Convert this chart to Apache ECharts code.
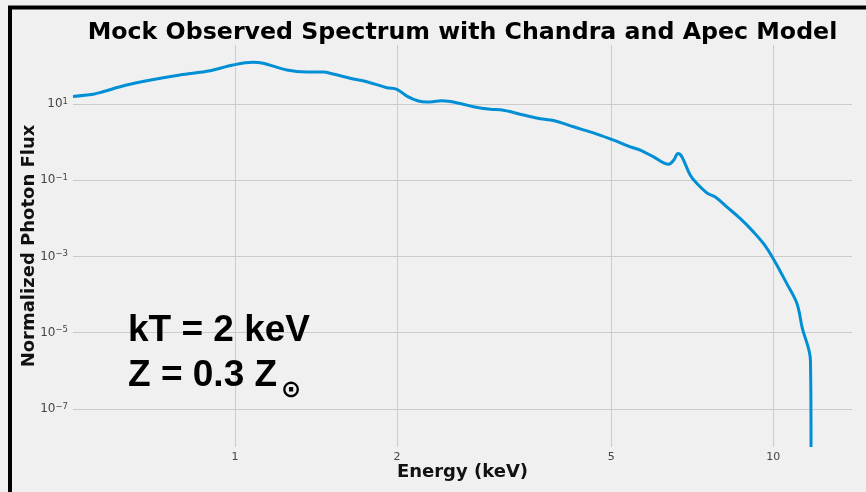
<!DOCTYPE html>
<html><head><meta charset="utf-8">
<script src="https://cdn.jsdelivr.net/npm/echarts@6/dist/echarts.min.js"></script>
<style>html,body{margin:0;padding:0;background:#f0f0f0}#c{width:866px;height:492px}</style>
</head><body><div id="c"></div>
<script>
const energy = [0.50, 0.545, 0.568, 0.629, 0.685, 0.790, 0.899, 0.991, 1.080, 1.127, 1.248, 1.359, 1.458, 1.521, 1.636, 1.757, 1.914, 1.998, 2.085, 2.191, 2.271, 2.423, 2.620, 2.773, 2.979, 3.110, 3.435, 3.689, 3.905, 4.254, 4.702, 5.050, 5.424, 5.661, 5.992, 6.390, 6.528, 6.652, 6.766, 7.011, 7.215, 7.531, 7.802, 8.203, 8.685, 9.192, 9.594, 10.01, 10.60, 11.07, 11.31, 11.72, 11.75];
const flux = [15.8, 18.0, 21.1, 31.6, 41.0, 58.0, 75.1, 106, 125, 118, 78.5, 69.5, 69.5, 61.5, 47.4, 38.6, 26.8, 24.4, 16.2, 12.0, 11.3, 12.2, 10.4, 8.49, 7.26, 7.08, 5.14, 4.11, 3.72, 2.53, 1.63, 1.13, 0.752, 0.616, 0.410, 0.264, 0.336, 0.505, 0.410, 0.135, 0.0818, 0.0463, 0.0364, 0.0198, 0.00982, 0.00436, 0.00216, 0.00085, 0.000191, 0.0000569, 0.0000138, 0.0000019, 1.0e-8];
const xTicks = [1, 2, 5, 10];
const yTicks = [1e-7, 1e-5, 1e-3, 1e-1, 1e1];
const titleText = 'Mock Observed Spectrum with Chandra and Apec Model';
const annotLine1 = 'kT = 2 keV';
const annotLine2 = 'Z = 0.3 Z';
const sunSymbol = '\u2299';

function expLabel(v) {
  const e = Math.round(Math.log10(v));
  return '{b|10}{s|' + String(e).replace('-', '\u2212') + '}';
}

const chart = echarts.init(document.getElementById('c'));
chart.setOption({
  backgroundColor: '#f0f0f0',
  animation: false,
  grid: { left: 73, right: 14, top: 45, bottom: 45 },
  xAxis: {
    type: 'log', logBase: 10, min: 0.5, max: 14,
    name: 'Energy (keV)', nameLocation: 'middle', nameGap: 16, nameMoveOverlap: false,
    nameTextStyle: { fontFamily: 'DejaVu Sans', fontWeight: 'bold', fontSize: 18, color: '#111' },
    axisLine: { show: false },
    axisTick: { show: false, customValues: xTicks },
    axisLabel: { customValues: xTicks, formatter: v => String(Math.round(v)), fontFamily: 'DejaVu Sans', fontSize: 11, color: '#444', margin: 5 },
    splitLine: { show: true, lineStyle: { color: '#cbcbcb', width: 1 } },
    minorTick: { show: false }, minorSplitLine: { show: false }
  },
  yAxis: {
    type: 'log', logBase: 10, min: 1e-8, max: 354.8,
    name: 'Normalized Photon Flux', nameLocation: 'middle', nameGap: 35, nameRotate: 90, nameMoveOverlap: false,
    nameTextStyle: { fontFamily: 'DejaVu Sans', fontWeight: 'bold', fontSize: 18, color: '#111' },
    axisLine: { show: false },
    axisTick: { show: false, customValues: yTicks },
    axisLabel: {
      customValues: yTicks, formatter: expLabel, margin: 5,
      rich: {
        b: { fontFamily: 'DejaVu Sans', fontSize: 12, color: '#444', lineHeight: 14 },
        s: { fontFamily: 'DejaVu Sans', fontSize: 8.5, color: '#444', verticalAlign: 'top', lineHeight: 8, padding: [0, 0, 0, 0] }
      }
    },
    splitLine: { show: true, lineStyle: { color: '#cbcbcb', width: 1 } },
    minorTick: { show: false }, minorSplitLine: { show: false }
  },
  series: [{
    type: 'line',
    data: energy.map((e, i) => [e, flux[i]]),
    showSymbol: false, symbol: 'none',
    smooth: 0.35,
    lineStyle: { color: '#008fd5', width: 3 },
    clip: true
  }],
  graphic: [
    { type: 'rect', shape: { x: 10, y: 7.5, width: 900, height: 600 }, style: { fill: 'none', stroke: '#000', lineWidth: 4 }, z: 100 },
    { type: 'text', x: 462.5, y: 32.5, style: { text: titleText, align: 'center', verticalAlign: 'middle', fontFamily: 'DejaVu Sans', fontWeight: 'bold', fontSize: 23.7, fill: '#000' }, z: 100 },
    { type: 'text', x: 128, y: 312, style: { text: annotLine1, align: 'left', verticalAlign: 'top', fontFamily: 'Liberation Sans', fontWeight: 'bold', fontSize: 37, fill: '#000' }, z: 100 },
    { type: 'text', x: 128, y: 357, style: { text: annotLine2, align: 'left', verticalAlign: 'top', fontFamily: 'Liberation Sans', fontWeight: 'bold', fontSize: 37, fill: '#000' }, z: 100 },
    { type: 'text', x: 291, y: 390.5, style: { text: sunSymbol, align: 'center', verticalAlign: 'middle', fontFamily: 'DejaVu Sans', fontWeight: 'bold', fontSize: 24, fill: '#000' }, z: 100 }
  ]
});
</script></body></html>
